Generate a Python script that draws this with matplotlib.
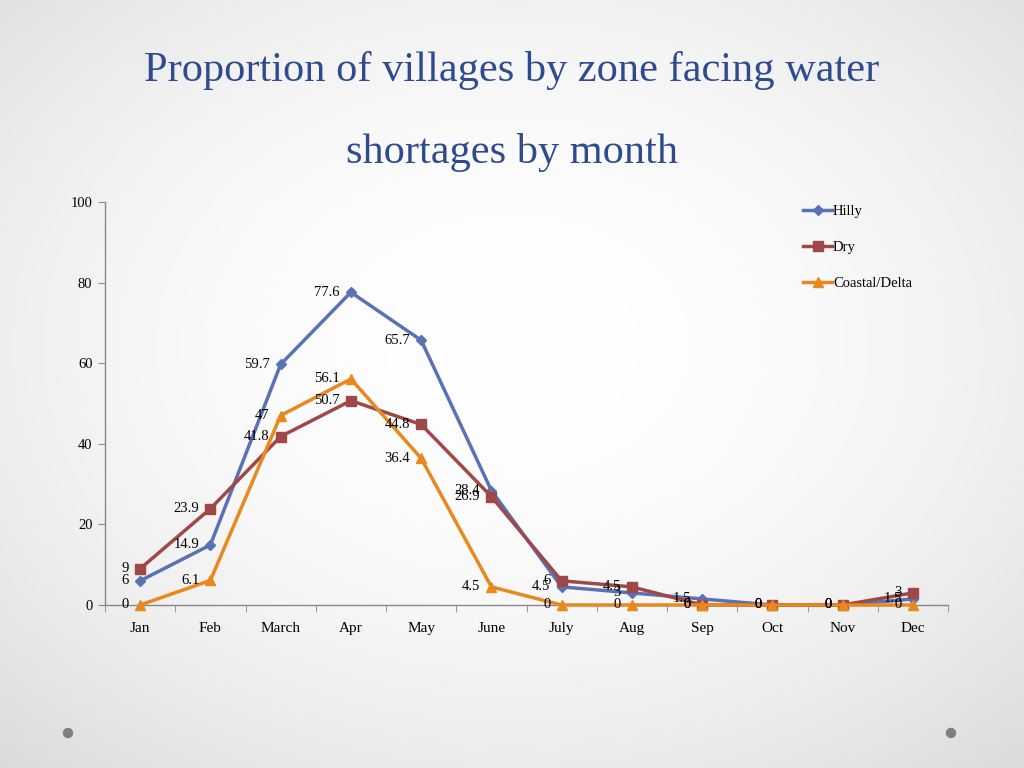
import matplotlib
matplotlib.use("Agg")
import matplotlib.pyplot as plt
import numpy as np

months = ["Jan", "Feb", "March", "Apr", "May", "June", "July", "Aug", "Sep", "Oct", "Nov", "Dec"]
hilly = [6, 14.9, 59.7, 77.6, 65.7, 28.4, 4.5, 3, 1.5, 0, 0, 1.5]
dry = [9, 23.9, 41.8, 50.7, 44.8, 26.9, 6, 4.5, 0, 0, 0, 3]
coastal = [0, 6.1, 47, 56.1, 36.4, 4.5, 0, 0, 0, 0, 0, 0]
y_ticks = [0, 20, 40, 60, 80, 100]

plt.rcParams['font.family'] = ['Liberation Serif', 'DejaVu Serif']

W, H = 1024, 768
fig = plt.figure(figsize=(W / 100, H / 100), dpi=100)

# background radial gradient
bg = fig.add_axes([0, 0, 1, 1])
yy, xx = np.mgrid[0:H, 0:W]
r = np.sqrt(((xx - W / 2) / (W * 0.62)) ** 2 + ((yy - H * 0.45) / (H * 0.62)) ** 2)
val = 1.0 - 0.10 * np.clip(r, 0, 1.2) ** 2
bg.imshow(np.dstack([val, val, val]), extent=[0, W, H, 0], aspect='auto')
bg.set_xlim(0, W)
bg.set_ylim(H, 0)
bg.axis('off')
for cx in (68, 951):
    bg.add_patch(plt.Circle((cx, 733), 4.5, color='#7f7f7f'))

fig.text(512 / W, 1 - 70 / H, "Proportion of villages by zone facing water",
         ha='center', va='center', fontsize=30.5, color='#2F4B8F')
fig.text(512 / W, 1 - 152 / H, "shortages by month",
         ha='center', va='center', fontsize=30.5, color='#2F4B8F')

left, right, top, bottom = 105, 948, 202, 605
ax = fig.add_axes([left / W, 1 - bottom / H, (right - left) / W, (bottom - top) / H])
ax.patch.set_alpha(0)

x = np.arange(len(months))
series = [
    ("Hilly", hilly, '#5A72B5', 'D', 5),
    ("Dry", dry, '#9E4847', 's', 7),
    ("Coastal/Delta", coastal, '#E8881F', '^', 7),
]
for name, vals, col, mk, ms in series:
    ax.plot(x, vals, color=col, lw=2.5, marker=mk, markersize=ms, label=name, clip_on=False, zorder=3)
    for xi, v in zip(x, vals):
        ax.annotate(f"{v:g}", (xi, v), xytext=(-8, 0), textcoords='offset points',
                    ha='right', va='center', fontsize=10.5, color='black', zorder=4)

ax.set_xlim(-0.5, len(months) - 0.5)
ax.set_ylim(0, 100)
ax.set_yticks(y_ticks)
ax.set_yticklabels([str(t) for t in y_ticks], fontsize=10.5)
ax.set_xticks(x)
ax.set_xticklabels(months, fontsize=11)
ax.set_xticks(np.arange(-0.5, len(months)), minor=True)
ax.tick_params(axis='x', which='major', length=0, pad=12)
ax.tick_params(axis='x', which='minor', length=5, color='#888888')
ax.tick_params(axis='y', length=5, color='#888888', pad=4)
for s in ('top', 'right'):
    ax.spines[s].set_visible(False)
for s in ('left', 'bottom'):
    ax.spines[s].set_color('#888888')
    ax.spines[s].set_linewidth(1)

leg = ax.legend(loc='upper left', bbox_to_anchor=((790 - left) / (right - left), 1.025),
                frameon=False, fontsize=10.5, labelspacing=1.55, handlelength=2.0,
                handletextpad=0.05)

fig.savefig("out.png", dpi=100)
